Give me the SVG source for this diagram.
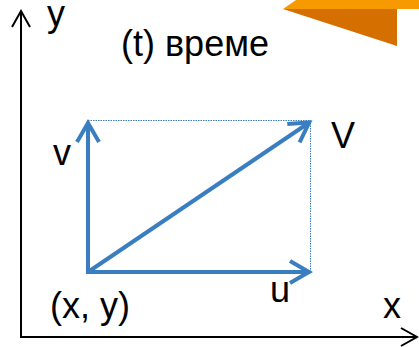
<svg xmlns="http://www.w3.org/2000/svg" width="419" height="347" viewBox="0 0 419 347">
<defs>
<style>
.lbl{font-family:"Liberation Sans",Arial,sans-serif;font-size:36px;fill:#000}
.axis{stroke:#000;stroke-width:2;fill:none}
.vec{stroke:#3A7EC1;stroke-width:4;fill:none}
.dot{stroke:#3A7EC1;stroke-width:1;stroke-dasharray:1.5 1;fill:none}
</style>
<marker id="ah-axis" markerUnits="userSpaceOnUse" markerWidth="30" markerHeight="30" viewBox="-20 -15 30 30" refX="0" refY="0" orient="auto" overflow="visible">
<path d="M-16,-9 L0,0 L-16,9" fill="none" stroke="#000" stroke-width="2"/>
</marker>
<marker id="ah-vec" markerUnits="userSpaceOnUse" markerWidth="40" markerHeight="40" viewBox="-25 -20 40 40" refX="0" refY="0" orient="auto" overflow="visible">
<path d="M-20,-11 L-1,0 L-20,11" fill="none" stroke="#3A7EC1" stroke-width="4"/>
</marker>
</defs>
<g id="decor">
<polygon points="283,9 296,0 419,0 419,9" fill="#F79A00"/>
<polygon points="283,9 397,9 397,46" fill="#D46F00"/>
</g>
<g id="connectors">
<line class="axis" x1="21" y1="337" x2="21" y2="11" marker-end="url(#ah-axis)"/>
<line class="axis" x1="20" y1="337" x2="417" y2="337" marker-end="url(#ah-axis)"/>
<polyline class="dot" points="88,120.5 310.5,120.5 310.5,272"/>
<line class="vec" x1="88" y1="274" x2="88" y2="122" marker-end="url(#ah-vec)"/>
<line class="vec" x1="86" y1="272" x2="310" y2="272" marker-end="url(#ah-vec)"/>
<line class="vec" x1="88" y1="272" x2="310" y2="122" marker-end="url(#ah-vec)"/>
</g>
<g id="labels">
<text class="lbl" x="47" y="26">y</text>
<text class="lbl" x="121" y="56">(t) време</text>
<text class="lbl" x="53" y="165">v</text>
<text class="lbl" x="331" y="148">V</text>
<text class="lbl" x="270" y="302">u</text>
<text class="lbl" x="50" y="318">(x, y)</text>
<text class="lbl" x="383" y="318">x</text>
</g>
</svg>
